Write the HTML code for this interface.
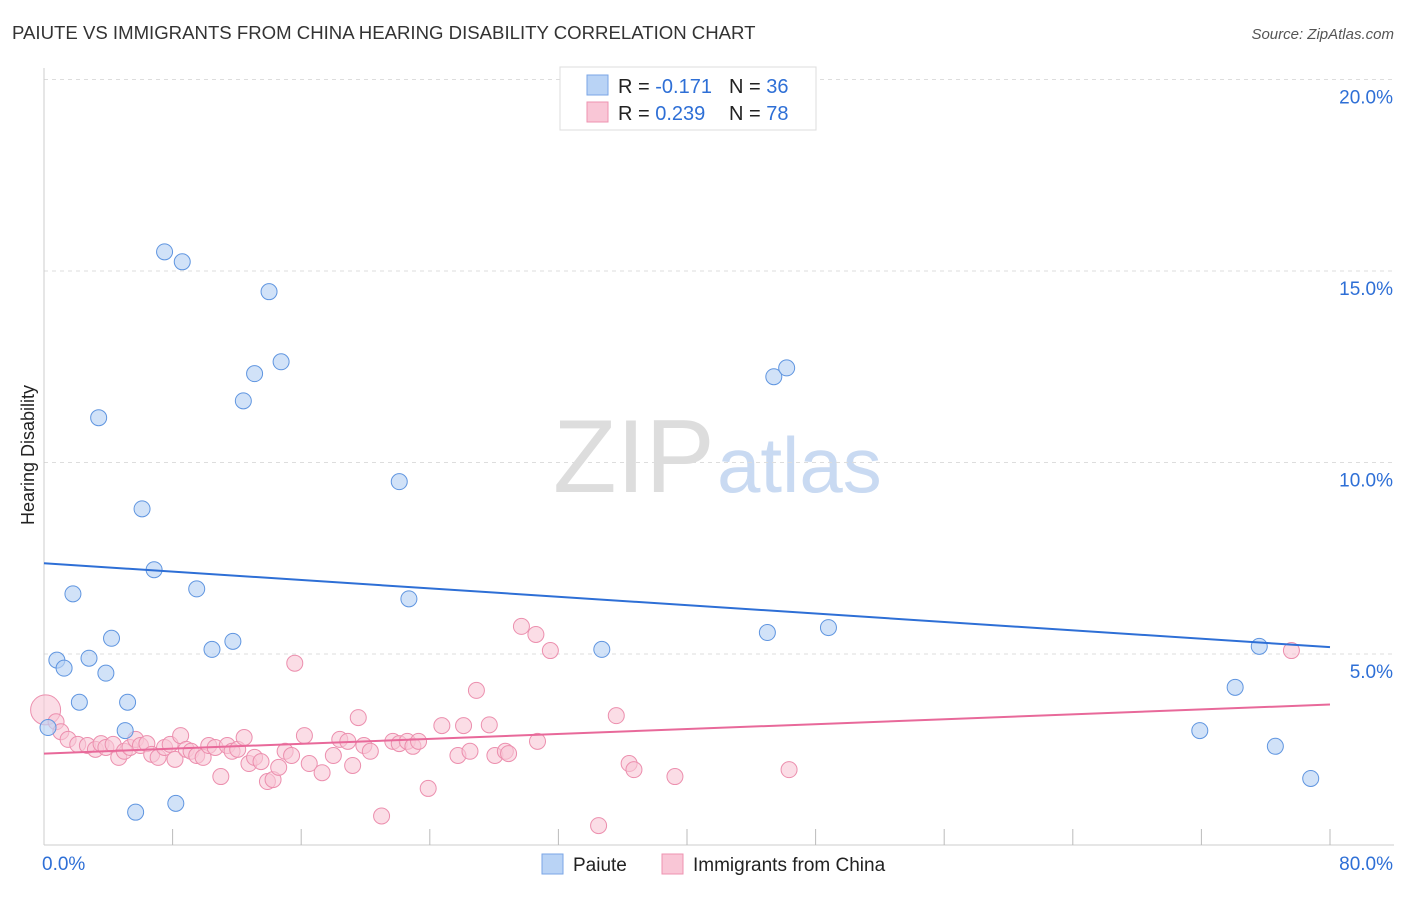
<!DOCTYPE html>
<html><head><meta charset="utf-8"><style>
body{margin:0;background:#fff;font-family:"Liberation Sans",sans-serif;}
svg text{font-family:"Liberation Sans",sans-serif;}
</style></head><body>
<svg id="chart" width="1406" height="892" viewBox="0 0 1406 892">
<text x="12" y="39" font-size="18.6" fill="#333">PAIUTE VS IMMIGRANTS FROM CHINA HEARING DISABILITY CORRELATION CHART</text>
<text x="1394" y="39" font-size="15" fill="#555" font-style="italic" text-anchor="end">Source: ZipAtlas.com</text>
<text x="34" y="455" font-size="18" fill="#222" transform="rotate(-90 34 455)" text-anchor="middle">Hearing Disability</text>
<g><text x="553" y="492" font-size="104" fill="#ddd" font-family="Liberation Serif,serif">ZIP</text><text x="717" y="492" font-size="78" fill="#c9daf2">atlas</text></g>
<g id="grid"></g><g id="axes"></g><g id="marks"></g>
<g>
<rect x="560" y="67" width="256" height="63" fill="#fff" stroke="#ddd"/>
<rect x="587" y="75" width="21" height="20" fill="#b9d3f5" stroke="#7aa6e6"/>
<rect x="587" y="102" width="21" height="20" fill="#f9c6d6" stroke="#ee93b0"/>
<text x="618" y="93" font-size="20" fill="#222">R = <tspan fill="#2e6fd6">-0.171</tspan></text>
<text x="729" y="93" font-size="20" fill="#222">N = <tspan fill="#2e6fd6">36</tspan></text>
<text x="618" y="120" font-size="20" fill="#222">R = <tspan fill="#2e6fd6"> 0.239</tspan></text>
<text x="729" y="120" font-size="20" fill="#222">N = <tspan fill="#2e6fd6">78</tspan></text>
</g>
<g>
<rect x="542" y="854" width="21" height="20" fill="#b9d3f5" stroke="#7aa6e6"/>
<text x="573" y="871" font-size="19" fill="#222">Paiute</text>
<rect x="662" y="854" width="21" height="20" fill="#f9c6d6" stroke="#ee93b0"/>
<text x="693" y="871" font-size="19" fill="#222">Immigrants from China</text>
</g>
</svg>
<script>
const yTicks=[5,10,15,20];
const xTickLabels=["0.0%","80.0%"];
const blueX=[7.5,8.6,14,14.75,13.1,12.4,3.4,22.1,6.1,6.85,1.8,9.5,22.7,4.2,11.75,10.45,0.8,2.8,1.25,3.85,2.2,5.2,5.05,0.25,5.7,8.2,34.7,45.0,48.8,45.4,46.2,75.6,74.1,71.9,76.6,78.8];
const blueY=[15.5,15.24,14.46,12.63,12.32,11.61,11.17,9.5,8.79,7.2,6.57,6.7,6.44,5.41,5.33,5.12,4.84,4.89,4.63,4.5,3.74,3.74,3.0,3.08,0.87,1.1,5.12,5.56,5.69,12.24,12.47,5.2,4.13,3.0,2.59,1.75];
const pinkX=[0.1,0.75,1.05,1.5,2.1,2.7,3.2,3.55,3.85,4.3,4.65,5.0,5.35,5.7,6.0,6.4,6.7,7.1,7.5,7.85,8.15,8.5,8.85,9.15,9.5,9.9,10.25,10.65,11.0,11.4,11.7,12.05,12.45,12.75,13.1,13.5,13.9,14.25,14.6,15.0,15.4,15.6,16.2,16.5,17.3,18.0,18.4,18.9,19.2,19.55,19.9,20.3,21.0,21.7,22.1,22.6,22.95,23.3,23.9,24.75,25.75,26.1,26.5,26.9,27.7,28.05,28.7,28.9,29.7,30.6,30.7,31.5,34.5,35.6,36.4,36.7,39.25,46.35,77.6];
const pinkY=[3.54,3.23,2.97,2.77,2.64,2.61,2.51,2.66,2.56,2.64,2.3,2.46,2.56,2.77,2.61,2.66,2.38,2.3,2.56,2.64,2.25,2.87,2.51,2.46,2.35,2.3,2.61,2.56,1.8,2.61,2.46,2.51,2.82,2.14,2.3,2.19,1.67,1.72,2.04,2.46,2.35,4.76,2.87,2.14,1.9,2.35,2.77,2.72,2.09,3.34,2.61,2.46,0.77,2.72,2.66,2.72,2.59,2.72,1.49,3.13,2.35,3.13,2.46,4.05,3.15,2.35,2.46,2.4,5.72,5.51,2.72,5.09,0.52,3.39,2.14,1.98,1.8,1.98,5.09];
const blueTrend=[7.37,5.18];
const pinkTrend=[2.4,3.68];
const NS="http://www.w3.org/2000/svg";
const X=v=>44+v*16.075, Y=v=>845.5-v*38.3;
function mk(t,a,p){const e=document.createElementNS(NS,t);for(const k in a)e.setAttribute(k,a[k]);p.appendChild(e);return e;}
const grid=document.getElementById('grid'),axes=document.getElementById('axes'),marks=document.getElementById('marks');
yTicks.forEach(t=>{const l=mk('line',{x1:44,x2:1394,y1:Y(t),y2:Y(t),stroke:'#ddd','stroke-dasharray':'4,4'},grid);


const tx=mk('text',{x:1393,y:Y(t)+24,'font-size':19,fill:'#2e6fd6','text-anchor':'end'},axes);tx.textContent=t.toFixed(1)+'%';

});
const xl=mk('line',{x1:44,x2:1394,y1:845,y2:845,stroke:'#ccc'},axes);


mk('line',{x1:44,x2:44,y1:68,y2:845,stroke:'#ccc'},axes);
for(let i=1;i<=10;i++){const t=mk('line',{x1:X(i*8),x2:X(i*8),y1:829,y2:845,stroke:'#bbb'},axes);

}
[[xTickLabels[0],X(0)-2,'start'],[xTickLabels[1],1393,'end']].forEach(([s,x,a])=>{const t=mk('text',{x:x,y:870,'font-size':19,fill:'#2e6fd6','text-anchor':a},axes);t.textContent=s;

});
pinkX.forEach((x,i)=>{const c=mk('circle',{cx:X(x),cy:Y(pinkY[i]),r:i==0?15:8,fill:'#f9c6d6','fill-opacity':0.6,stroke:'#ec8fae','stroke-width':1},marks);

});
blueX.forEach((x,i)=>{const c=mk('circle',{cx:X(x),cy:Y(blueY[i]),r:8,fill:'#b9d3f5','fill-opacity':0.65,stroke:'#5f95e0','stroke-width':1},marks);

});
const bt=mk('line',{x1:X(0),x2:X(80),y1:Y(blueTrend[0]),y2:Y(blueTrend[1]),stroke:'#2e6fd6','stroke-width':2},marks);


const pt=mk('line',{x1:X(0),x2:X(80),y1:Y(pinkTrend[0]),y2:Y(pinkTrend[1]),stroke:'#e8699a','stroke-width':2},marks);


</script>
</body></html>
